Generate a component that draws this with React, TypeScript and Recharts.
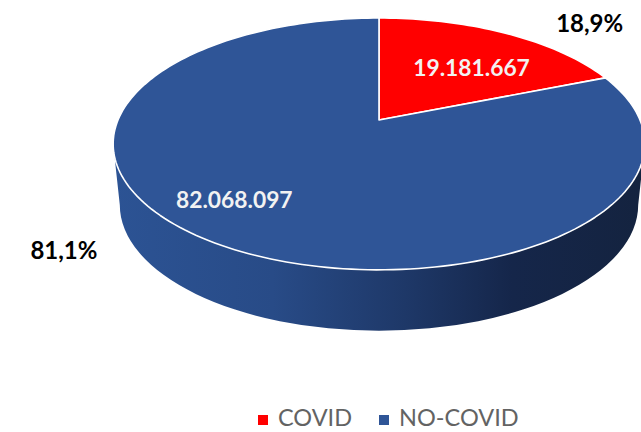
import React from "react";
import { PieChart, Pie, Cell, Legend } from "recharts";

const categories = ["COVID", "NO-COVID"];
const cases = [19181667, 82068097];
const colors = ["#FF0000", "#2F5597"];
const tableData = categories.map((name, i) => ({ name, value: cases[i] }));

// Perspective constants for the tilted disc (fractions of the outer radius)
const TILT = 0.465;
const PERSP = 0.19;
const DEPTH = 61;
const WALL_SHRINK = 0.975;

const FONT = "Lato, 'Open Sans', sans-serif";

function project(cx: number, cy: number, R: number, r: number, deg: number) {
  const a = (deg * Math.PI) / 180;
  const u = r * Math.cos(a);
  const v = r * Math.sin(a);
  const w = 1 + PERSP * v;
  return { x: cx + (R * u) / w, y: cy - (R * TILT * v) / w };
}

function DiscSector(props: any) {
  const { cx, cy, outerRadius: R, startAngle, endAngle, fill, index } = props;
  const n = Math.max(4, Math.ceil(Math.abs(endAngle - startAngle) / 1.5));
  let d = `M${cx},${cy}`;
  for (let i = 0; i <= n; i++) {
    const p = project(cx, cy, R, 1, startAngle + ((endAngle - startAngle) * i) / n);
    d += `L${p.x.toFixed(2)},${p.y.toFixed(2)}`;
  }
  d += "Z";
  const B = R * TILT;
  const top = B / (1 + PERSP);
  const bot = B / (1 - PERSP);
  const ecy = cy + (bot - top) / 2;
  const ry = (bot + top) / 2;
  const rx = R / Math.sqrt(1 - PERSP * PERSP);
  const rx2 = rx * WALL_SHRINK;
  const wall =
    `M${cx - rx},${ecy}A${rx},${ry} 0 0 0 ${cx + rx},${ecy}` +
    `L${cx + rx2},${ecy + DEPTH}A${rx2},${ry} 0 0 1 ${cx - rx2},${ecy + DEPTH}Z`;
  return (
    <g>
      {index === 1 ? <path d={wall} fill="url(#wallShade)" /> : null}
      <path d={d} fill={fill} stroke="#FFFFFF" strokeWidth={1.6} strokeLinejoin="round" />
    </g>
  );
}

const formatValue = (v: number) => String(v).replace(/\B(?=(\d{3})+$)/g, ".");
const formatPct = (p: number) => (p * 100).toFixed(1).replace(".", ",") + "%";

// Label placement along each slice: radius fraction and angular shift from the mid-angle
const valueSpot = [
  { r: 0.613, da: -5 },
  { r: 0.76, da: -6.4 },
];
const pctSpot = [
  { r: 1.345, da: -11 },
  { r: 1.34, da: -14.4 },
];

function SliceLabels(props: any) {
  const { cx, cy, outerRadius: R, midAngle, index, value, percent } = props;
  const a = project(cx, cy, R, valueSpot[index].r, midAngle + valueSpot[index].da);
  const b = project(cx, cy, R, pctSpot[index].r, midAngle + pctSpot[index].da);
  return (
    <g fontFamily={FONT} fontWeight={700} textAnchor="middle" dominantBaseline="central">
      <text x={a.x} y={a.y} fontSize={22.8} fill="#F2F2F2">
        {formatValue(value)}
      </text>
      <text x={b.x} y={b.y} fontSize={24} fill="#000000">
        {formatPct(percent)}
      </text>
    </g>
  );
}

export default function App() {
  return (
    <div style={{ position: "absolute", left: 0, top: 0, width: 641, height: 432 }}>
      <PieChart width={641} height={432} margin={{ top: 0, right: 0, bottom: 0, left: 0 }}>
        <defs>
          <linearGradient id="wallShade" x1="0" y1="0" x2="1" y2="0">
            <stop offset="0" stopColor="#2C5394" />
            <stop offset="0.3" stopColor="#284B87" />
            <stop offset="0.55" stopColor="#1E3868" />
            <stop offset="0.75" stopColor="#15264A" />
            <stop offset="1" stopColor="#14233F" />
          </linearGradient>
        </defs>
        <Pie
          data={tableData}
          dataKey="value"
          nameKey="name"
          cx={379}
          cy={120}
          innerRadius={0}
          outerRadius={261}
          startAngle={90}
          endAngle={-270}
          paddingAngle={0}
          stroke="none"
          shape={DiscSector}
          label={SliceLabels}
          labelLine={false}
          isAnimationActive={false}
        >
          {categories.map((c, i) => (
            <Cell key={c} fill={colors[i]} />
          ))}
        </Pie>
        <Legend
          iconType="square"
          iconSize={10}
          layout="horizontal"
          wrapperStyle={{ left: 258, top: 403, bottom: "auto", width: 320, fontFamily: FONT, fontSize: 23.5 }}
          align="left"
          verticalAlign="bottom"
          formatter={(v: string) => (
            <span style={{ color: "#636363", marginLeft: 6, marginRight: 17 }}>{v}</span>
          )}
        />
      </PieChart>
    </div>
  );
}
